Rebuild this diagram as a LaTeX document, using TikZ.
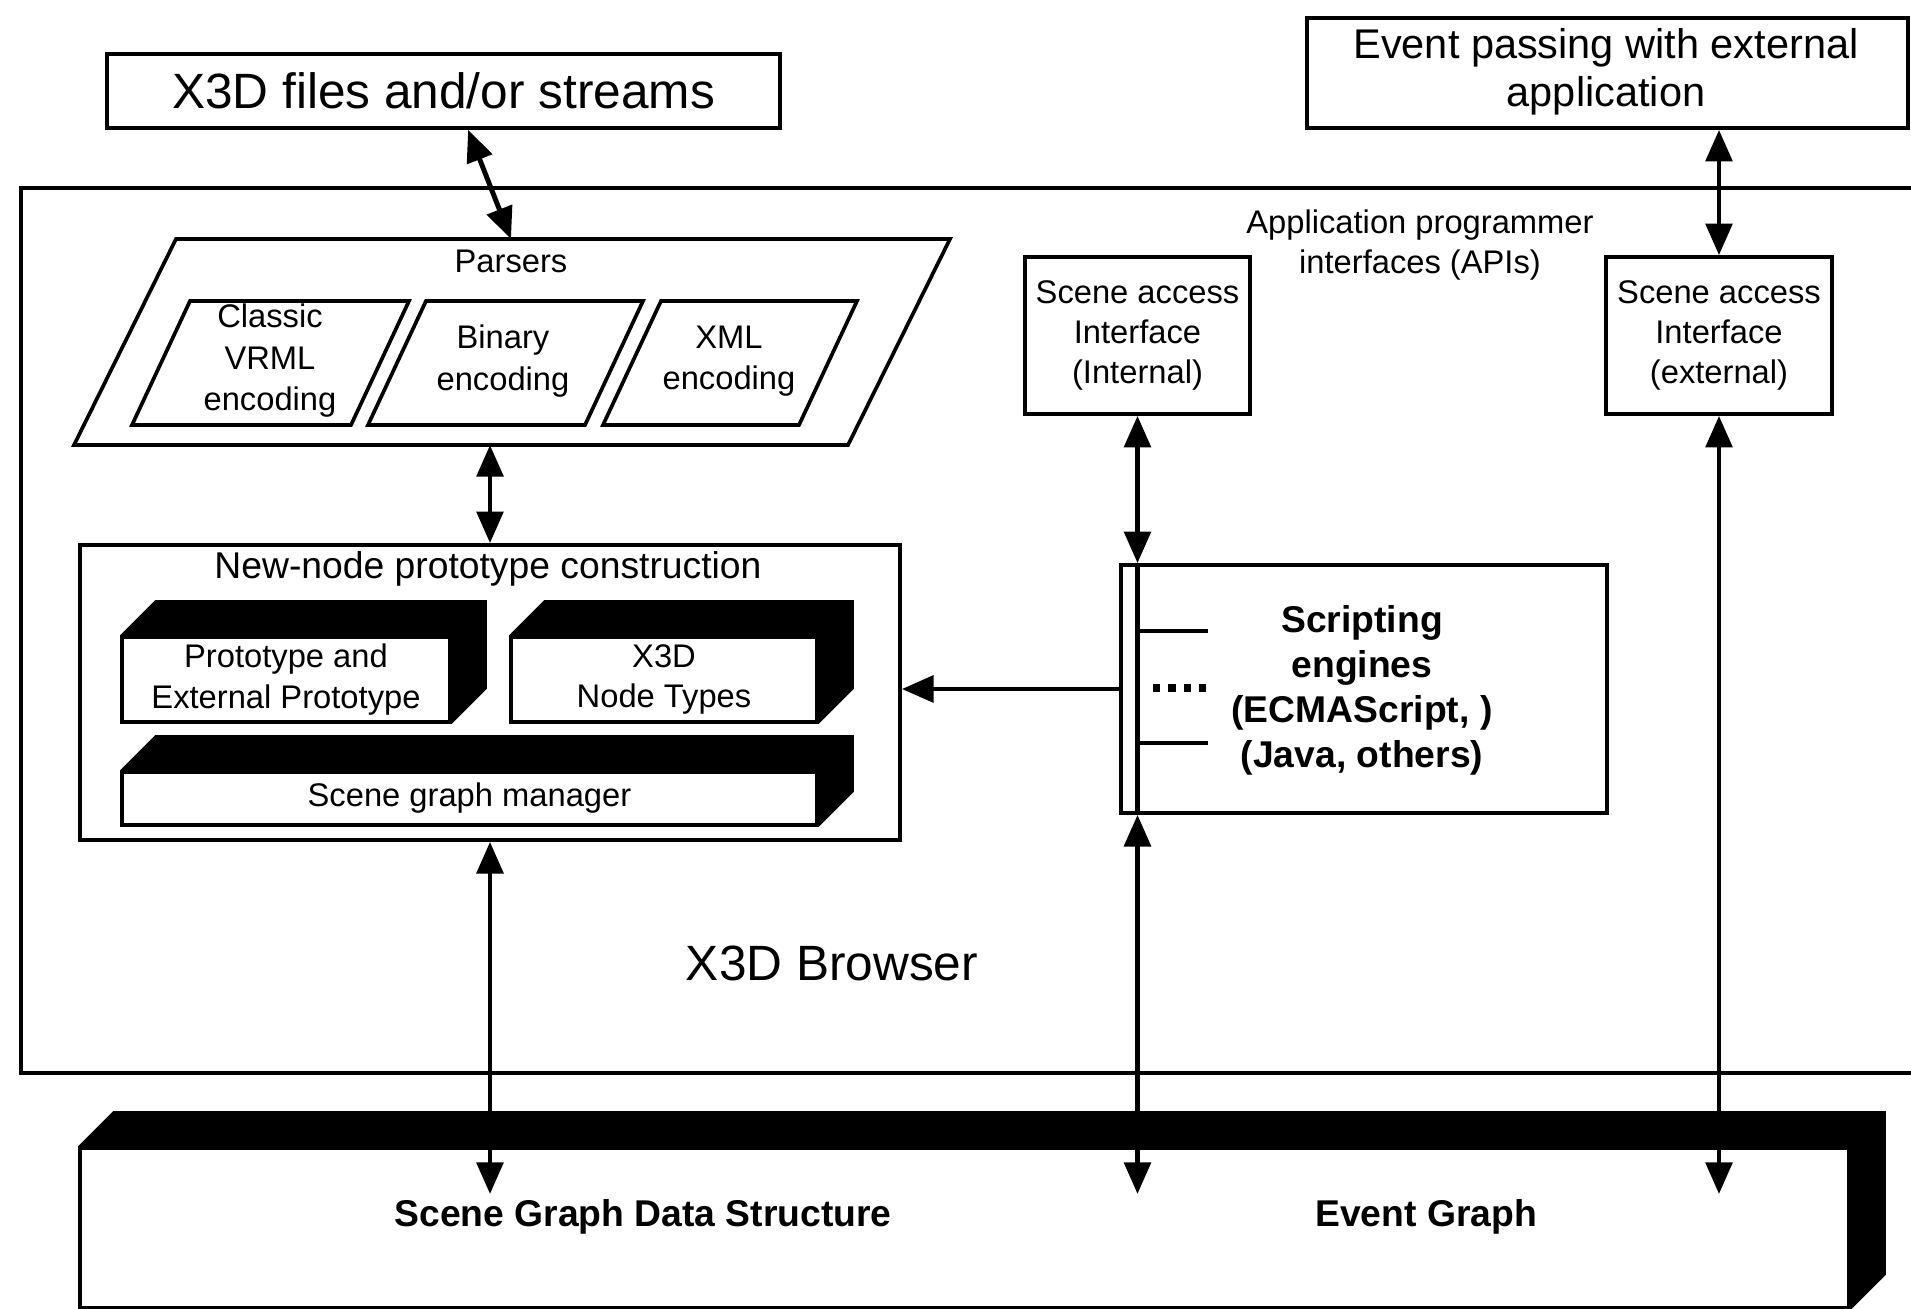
\documentclass[tikz,border=0pt]{standalone}
\usepackage{fontspec}
\setmainfont{Liberation Sans}
\usetikzlibrary{arrows.meta,fit,calc}

\begin{document}
\begin{tikzpicture}[
  x=0.01cm, y=-0.01cm,
  frame/.style={draw=black, line width=1.05pt, inner sep=0pt, fill=white},
  plain/.style={inner sep=0pt, align=center},
  small/.style={plain, font=\fontsize{9.3}{11.4}\selectfont},
  mid/.style={plain, font=\fontsize{10.6}{12.8}\selectfont},
  strong/.style={plain, font=\fontsize{10.6}{12.8}\selectfont\bfseries},
  big/.style={plain, font=\fontsize{14.1}{16.9}\selectfont},
  conn/.style={line width=1.4pt},
  tip/.tip={Triangle[length=9pt,width=7.5pt]},
  link/.style={conn, tip-tip},
  onelink/.style={conn, -tip},
]
\useasboundingbox (0,0) rectangle (1911,1309);
\clip (0,0) rectangle (1911,1309);

% black top and right faces of a 3D block, drawn behind its front face
\newcommand{\blockdepth}[1]{%
  \fill[black] (#1.north west) -- ([shift={(35,-35)}]#1.north west)
    -- ([shift={(35,-35)}]#1.north east) -- ([shift={(35,-35)}]#1.south east)
    -- (#1.south east) -- (#1.north east) -- cycle;}

% ---------------- browser frame ----------------
\node[frame, fill=none, fit={(21,188) (2000,1073)}] (browser) {};
\node[big] (browsername) at (832,963) {X3D Browser};

% ---------------- external inputs ----------------
\node[frame, fit={(107,54) (780,128)}] (files) {};
\node[big] (filestext) at (files.center) {X3D files and/or streams};

\node[frame, fit={(1307,18) (1908,128)}] (evpass) {};
\node[plain, font=\fontsize{11.8}{13.6}\selectfont] (evpasstext) at (1606,72)
  {Event passing with external\\application};

% ---------------- parsers ----------------
\draw[line width=1.05pt] (176,239) -- (950,239) -- (848,445) -- (74,445) -- cycle;
\node[small] (parsers) at (511,261) {Parsers};
\draw[line width=1.05pt] (190,301) -- (409,301) -- (351,425) -- (132,425) -- cycle;
\draw[line width=1.05pt] (426,301) -- (643,301) -- (585,425) -- (368,425) -- cycle;
\draw[line width=1.05pt] (661,301) -- (857,301) -- (799,425) -- (603,425) -- cycle;
\node[small, font=\fontsize{9.3}{11.8}\selectfont] (classic) at (270,361) {Classic\\VRML\\encoding};
\node[small, font=\fontsize{9.3}{11.8}\selectfont] (binary) at (503,361) {Binary\\encoding};
\node[small, font=\fontsize{9.3}{11.8}\selectfont] (xmlenc) at (729,361) {XML\\encoding};
\coordinate (parsersTop) at (511,239);
\coordinate (parsersBot) at (490,445);

% ---------------- new-node prototype construction ----------------
\node[frame, fit={(80,545) (900,840)}] (newnode) {};
\node[mid] (newnodetitle) at (488,569) {New-node prototype construction};

\node[frame, fit={(122,637) (450,722)}] (proto) {};
\node[frame, fit={(511,637) (817,722)}] (types) {};
\node[frame, fit={(122,772) (817,825)}] (sgm) {};
\blockdepth{proto}
\blockdepth{types}
\blockdepth{sgm}
\node[small] at (proto.center) {Prototype and\\External Prototype};
\node[small] at (types.center) {X3D\\Node Types};
\node[small] at (sgm.center) {Scene graph manager};

% ---------------- APIs ----------------
\node[small] (apis) at (1420,245) {Application programmer\\interfaces (APIs)};
\node[frame, fit={(1025,257) (1250,414)}] (saiint) {};
\node[small] at (saiint.center) {Scene access\\Interface\\(Internal)};
\node[frame, fit={(1606,257) (1832,414)}] (saiext) {};
\node[small] at (saiext.center) {Scene access\\Interface\\(external)};

% ---------------- scripting engines ----------------
\node[frame, fit={(1121,565) (1607,813)}] (scripting) {};
\node[strong] (scripttext) at (1362,690) {Scripting\\engines\\(ECMAScript, )\\(Java, others)};
\coordinate (bus) at (saiint.south);
\draw[conn] (bus |- scripting.north) -- (bus |- scripting.south);
\draw[conn] (bus |- 0,631) -- (1208,631);
\draw[conn] (bus |- 0,743) -- (1208,743);
\draw[line width=2pt, dash pattern=on 2pt off 2.4pt] (1153,688) -- (1206,688);

% ---------------- scene graph data structure / event graph ----------------
\node[frame, fit={(80,1148) (1849,1308)}] (sgds) {};
\blockdepth{sgds}
\node[strong] (sgdstext) at (643,1217) {Scene Graph Data Structure};
\node[strong] (evgraph) at (1426,1217) {Event Graph};
\coordinate (sgdsTip) at (490,1194);

% ---------------- connectors ----------------
\draw[link] ([xshift=7]files.south) -- (parsersTop);
\draw[link] (parsersBot) -- (parsersBot |- newnode.north);
\draw[link] (newnode.south -| sgdsTip) -- (sgdsTip);
\draw[onelink] (scripting.west) -- (scripting.west -| newnode.east);
\draw[link] (bus) -- (bus |- scripting.north);
\draw[link] (bus |- scripting.south) -- (bus |- sgdsTip);
\draw[link] (saiext.north |- evpass.south) -- (saiext.north);
\draw[link] (saiext.south) -- (saiext.south |- sgdsTip);
\end{tikzpicture}
\end{document}
